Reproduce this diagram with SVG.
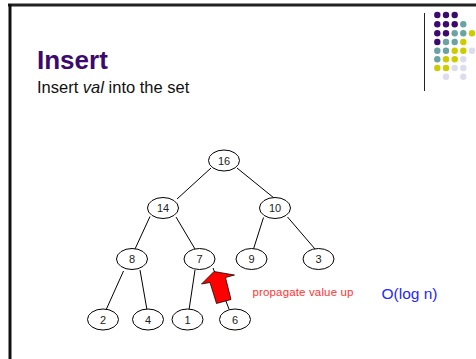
<svg xmlns="http://www.w3.org/2000/svg" width="476" height="359" viewBox="0 0 476 359">
<style>
.node ellipse{fill:#fff;stroke:#000;stroke-width:1}
.node text{font-family:"Liberation Sans",Arial,sans-serif;font-size:11px;fill:#222;text-anchor:middle}
.edges line{stroke:#000;stroke-width:1}
.p{fill:#3c0a6e}.t{fill:#6aa3a3}.y{fill:#cccc00}.l{fill:#dcdcf0}
</style>
<rect width="476" height="359" fill="#fff"/>
<g id="frame">
<line x1="8" y1="5" x2="476" y2="5" stroke="#222" stroke-width="3"/>
<line x1="10" y1="4" x2="10" y2="359" stroke="#111" stroke-width="3"/>
<line x1="424.5" y1="13" x2="424.5" y2="91" stroke="#222" stroke-width="1"/>
</g>
<g id="dots">
<circle class="p" cx="437.3" cy="15" r="3.2"/><circle class="p" cx="446" cy="15" r="3.2"/><circle class="p" cx="454.7" cy="15" r="3.2"/>
<circle class="p" cx="437.3" cy="24.3" r="3.2"/><circle class="p" cx="446" cy="24.3" r="3.2"/><circle class="p" cx="454.7" cy="24.3" r="3.2"/><circle class="t" cx="463.3" cy="24.3" r="3.2"/>
<circle class="p" cx="437.3" cy="33.3" r="3.2"/><circle class="p" cx="446" cy="33.3" r="3.2"/><circle class="t" cx="454.7" cy="33.3" r="3.2"/><circle class="t" cx="463.3" cy="33.3" r="3.2"/><circle class="y" cx="472" cy="33.3" r="3.2"/>
<circle class="p" cx="437.3" cy="42" r="3.2"/><circle class="t" cx="446" cy="42" r="3.2"/><circle class="t" cx="454.7" cy="42" r="3.2"/><circle class="y" cx="463.3" cy="42" r="3.2"/>
<circle class="t" cx="437.3" cy="50.7" r="3.2"/><circle class="t" cx="446" cy="50.7" r="3.2"/><circle class="y" cx="454.7" cy="50.7" r="3.2"/><circle class="y" cx="463.3" cy="50.7" r="3.2"/><circle class="l" cx="472" cy="50.7" r="3.2"/>
<circle class="t" cx="437.3" cy="59.3" r="3.2"/><circle class="y" cx="446" cy="59.3" r="3.2"/><circle class="y" cx="454.7" cy="59.3" r="3.2"/><circle class="l" cx="463.3" cy="59.3" r="3.2"/>
<circle class="y" cx="437.3" cy="68" r="3.2"/><circle class="y" cx="446" cy="68" r="3.2"/><circle class="l" cx="454.7" cy="68" r="3.2"/><circle class="l" cx="463.3" cy="68" r="3.2"/>
<circle class="l" cx="446" cy="76.7" r="3.2"/><circle class="l" cx="463.3" cy="76.7" r="3.2"/>
</g>
<text x="37" y="69" font-family="'Liberation Sans',Arial,sans-serif" font-size="26" font-weight="bold" fill="#3c0a6e">Insert</text>
<text x="37" y="93" font-family="'Liberation Sans',Arial,sans-serif" font-size="16.5" fill="#111">Insert <tspan font-style="italic">val</tspan> into the set</text>
<g class="edges" id="connectors">
<line x1="211" y1="168" x2="177" y2="199"/>
<line x1="237" y1="168" x2="274" y2="198"/>
<line x1="150" y1="216.5" x2="135" y2="249"/>
<line x1="176" y1="217" x2="195" y2="249"/>
<line x1="263.5" y1="217.5" x2="253.5" y2="249"/>
<line x1="287.5" y1="217" x2="315" y2="249"/>
<line x1="123.5" y1="271" x2="106" y2="310"/>
<line x1="140" y1="270" x2="147" y2="310"/>
<line x1="195" y1="270" x2="189" y2="310"/>
<line x1="213" y1="268" x2="229" y2="309"/>
</g>
<g id="n16" class="node"><ellipse cx="224" cy="160.5" rx="15.5" ry="10.5"/><text x="224" y="164.5">16</text></g>
<g id="n14" class="node"><ellipse cx="163" cy="208" rx="15.5" ry="10.5"/><text x="163" y="212">14</text></g>
<g id="n10" class="node"><ellipse cx="275" cy="208" rx="15.5" ry="10.5"/><text x="275" y="212">10</text></g>
<g id="n8" class="node"><ellipse cx="132" cy="259" rx="15.5" ry="10.5"/><text x="132" y="263">8</text></g>
<g id="n7" class="node"><ellipse cx="199.5" cy="259" rx="15.5" ry="10.5"/><text x="199.5" y="263">7</text></g>
<g id="n9" class="node"><ellipse cx="251.5" cy="259" rx="15.5" ry="10.5"/><text x="251.5" y="263">9</text></g>
<g id="n3" class="node"><ellipse cx="318.5" cy="259" rx="15.5" ry="10.5"/><text x="318.5" y="263">3</text></g>
<g id="n2" class="node"><ellipse cx="103" cy="319.5" rx="15.5" ry="10.5"/><text x="103" y="323.5">2</text></g>
<g id="n4" class="node"><ellipse cx="148" cy="319.5" rx="15.5" ry="10.5"/><text x="148" y="323.5">4</text></g>
<g id="n1" class="node"><ellipse cx="187.5" cy="319.5" rx="15.5" ry="10.5"/><text x="187.5" y="323.5">1</text></g>
<g id="n6" class="node"><ellipse cx="235" cy="319.5" rx="15.5" ry="10.5"/><text x="235" y="323.5">6</text></g>
<g id="arrow">
<polygon points="214,271.5 234.5,275 225.5,277.5 231,299.5 216.5,303.5 210,282.5 201.5,284" fill="#ff0000" stroke="#000" stroke-width="0.75" stroke-linejoin="miter"/>
</g>
<text x="252.5" y="296" font-family="'Liberation Sans',Arial,sans-serif" font-size="11.5" fill="#ff3333" textLength="101">propagate value up</text>
<text x="381.5" y="299" font-family="'Liberation Sans',Arial,sans-serif" font-size="15.5" fill="#2525ff">O(log n)</text>
</svg>
